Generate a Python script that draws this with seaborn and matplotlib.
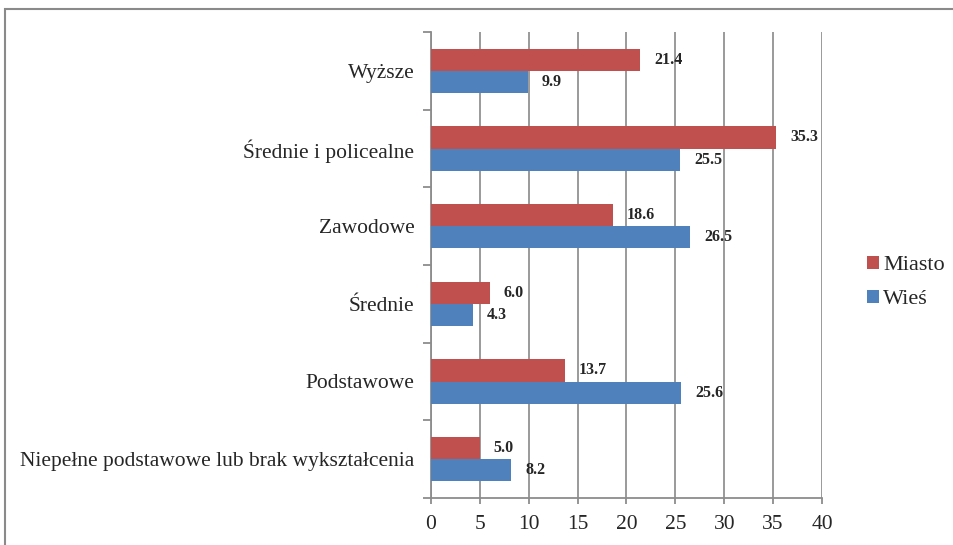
import pandas as pd
import matplotlib.pyplot as plt
import seaborn as sns
from matplotlib.patches import Rectangle

categories = [
    "Wyższe",
    "Średnie i policealne",
    "Zawodowe",
    "Średnie",
    "Podstawowe",
    "Niepełne podstawowe lub brak wykształcenia",
]
miasto = [21.4, 35.3, 18.6, 6.0, 13.7, 5.0]
wies = [9.9, 25.5, 26.5, 4.3, 25.6, 8.2]
series = ["Miasto", "Wieś"]
colors = ["#C0504D", "#4F81BD"]

df = pd.DataFrame(
    {
        "kategoria": categories * 2,
        "obszar": ["Miasto"] * len(categories) + ["Wieś"] * len(categories),
        "wartosc": miasto + wies,
    }
)

sns.set_style("white")
plt.rcParams["font.family"] = "serif"
plt.rcParams["font.serif"] = ["Liberation Serif", "DejaVu Serif"]

fig = plt.figure(figsize=(9.54, 5.45), dpi=100)
ax = fig.add_axes([431 / 954, 1 - 498 / 545, (822 - 431) / 954, (498 - 32) / 545])

sns.barplot(
    data=df,
    y="kategoria",
    x="wartosc",
    hue="obszar",
    order=categories,
    hue_order=series,
    palette=colors,
    orient="h",
    width=0.57,
    saturation=1,
    linewidth=0,
    ax=ax,
    zorder=3,
)

for cont in ax.containers:
    ax.bar_label(cont, fmt="%.1f", padding=10, fontsize=11.5, fontweight="bold")

ax.set_xlim(0, 40)
ax.set_ylim(len(categories) - 0.5, -0.5)
ax.set_xticks(range(0, 41, 5))
ax.set_xlabel("")
ax.set_ylabel("")
ax.grid(axis="x", color="#929292", linewidth=1.3, zorder=0)
ax.set_axisbelow(True)

for s in ["top", "right"]:
    ax.spines[s].set_visible(False)
for s in ["left", "bottom"]:
    ax.spines[s].set_color("#8c8c8c")
    ax.spines[s].set_linewidth(1.3)

ax.set_yticks([i - 0.5 for i in range(len(categories) + 1)], minor=True)
ax.tick_params(axis="y", which="minor", length=6, width=1.3, color="#8c8c8c", left=True)
ax.tick_params(axis="y", which="major", length=0, pad=12, labelsize=15.5)
ax.tick_params(axis="x", which="major", length=4, width=1.3, color="#8c8c8c",
               bottom=True, pad=8, labelsize=15.5)

leg = ax.legend(
    loc="center left",
    bbox_to_anchor=(1.065, 0.462),
    frameon=False,
    fontsize=16,
    handlelength=0.5,
    handleheight=0.5,
    handletextpad=0.2,
    labelspacing=0.65,
)

fig.patches.append(
    Rectangle((5 / 954, -0.5), 2, 1 - 9 / 545 + 0.5, transform=fig.transFigure,
              fill=False, edgecolor="#8a8a8a", linewidth=1.5)
)

fig.savefig("out.png", dpi=100)
